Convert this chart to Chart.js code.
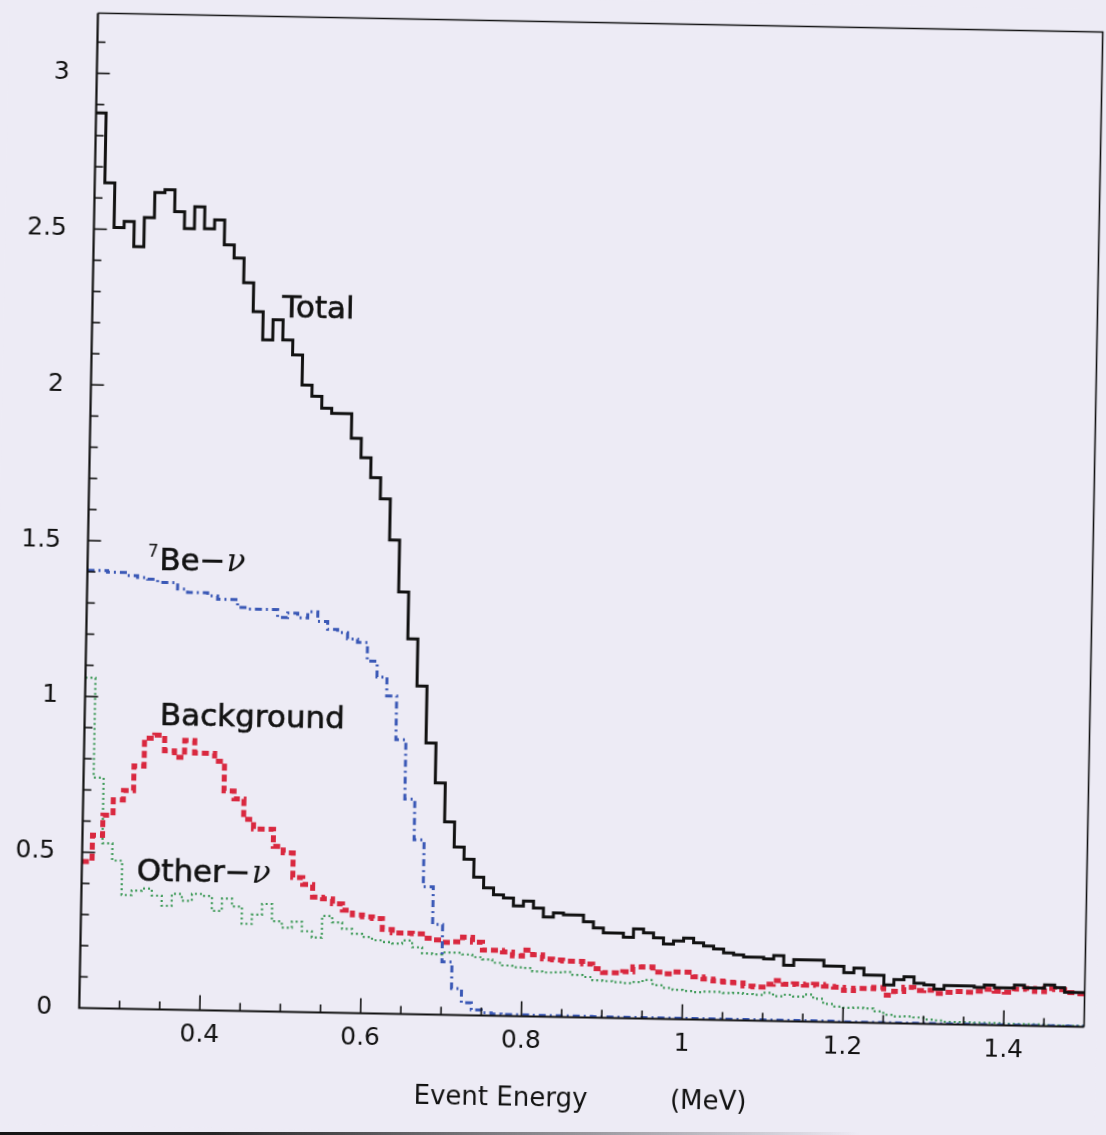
<!DOCTYPE html>
<html>
<head>
<meta charset="utf-8">
<title>Event Energy spectrum</title>
<script src="https://cdn.jsdelivr.net/npm/chart.js@4.4.1/dist/chart.umd.min.js"></script>
<style>
  html, body { margin: 0; padding: 0; background: #edebf5; overflow: hidden; }
  #wrap { position: relative; width: 1106px; height: 1135px; background: #edebf5; }
  #plot { position: absolute; left: 0; top: 0; transform-origin: 591px 520px; transform: rotate(1.08deg); }
  #edge { position: absolute; left: 0; bottom: 0; width: 860px; height: 3px;
          background: linear-gradient(to right, #151515 0%, #262626 25%, rgba(60,60,60,0) 100%); }
</style>
</head>
<body>
<div id="wrap">
  <canvas id="plot" width="1106" height="1135"></canvas>
  <div id="edge"></div>
</div>
<script>
// Histogram binning: 100 bins of 0.0125 MeV from 0.25 to 1.5 MeV
const binStart = 0.25;
const binWidth = 0.0125;

// Bin contents, one value per bin
const total = [
  2.873, 2.649, 2.506, 2.526, 2.446, 2.540, 2.621, 2.631, 2.561, 2.507,
  2.578, 2.508, 2.537, 2.457, 2.416, 2.337, 2.245, 2.155, 2.220, 2.156,
  2.108, 2.012, 1.977, 1.939, 1.923, 1.923, 1.844, 1.783, 1.719, 1.652,
  1.520, 1.354, 1.204, 1.053, 0.871, 0.744, 0.619, 0.539, 0.501, 0.444,
  0.410, 0.388, 0.379, 0.354, 0.370, 0.348, 0.320, 0.334, 0.328, 0.328,
  0.307, 0.288, 0.273, 0.273, 0.260, 0.287, 0.275, 0.260, 0.241, 0.251,
  0.261, 0.246, 0.237, 0.228, 0.216, 0.210, 0.204, 0.204, 0.199, 0.210,
  0.180, 0.198, 0.198, 0.198, 0.180, 0.180, 0.160, 0.175, 0.153, 0.153,
  0.123, 0.140, 0.150, 0.130, 0.125, 0.112, 0.124, 0.124, 0.124, 0.120,
  0.128, 0.120, 0.120, 0.130, 0.122, 0.122, 0.132, 0.124, 0.110, 0.110
];

const be7 = [
  1.405, 1.405, 1.400, 1.400, 1.390, 1.385, 1.380, 1.370, 1.370, 1.350,
  1.340, 1.340, 1.330, 1.320, 1.320, 1.295, 1.290, 1.290, 1.290, 1.265,
  1.280, 1.265, 1.285, 1.255, 1.230, 1.220, 1.200, 1.190, 1.130, 1.080,
  1.020, 0.880, 0.690, 0.560, 0.410, 0.290, 0.170, 0.085, 0.040, 0.018,
  0.009, 0.006, 0.005, 0.005, 0.005, 0.004, 0.004, 0.004, 0.004, 0.004,
  0.004, 0.003, 0.003, 0.003, 0.003, 0.003, 0.003, 0.003, 0.003, 0.003,
  0.003, 0.003, 0.003, 0.003, 0.003, 0.003, 0.003, 0.003, 0.003, 0.003,
  0.003, 0.003, 0.003, 0.003, 0.003, 0.002, 0.002, 0.002, 0.002, 0.002,
  0.002, 0.002, 0.002, 0.002, 0.002, 0.002, 0.002, 0.002, 0.002, 0.002,
  0.002, 0.002, 0.002, 0.002, 0.002, 0.002, 0.002, 0.002, 0.002, 0.002
];

const background = [
  0.470, 0.555, 0.620, 0.670, 0.700, 0.780, 0.870, 0.880, 0.830, 0.810,
  0.865, 0.825, 0.825, 0.800, 0.705, 0.680, 0.615, 0.585, 0.585, 0.530,
  0.510, 0.432, 0.410, 0.370, 0.365, 0.350, 0.330, 0.315, 0.310, 0.305,
  0.270, 0.260, 0.260, 0.258, 0.245, 0.240, 0.233, 0.235, 0.250, 0.235,
  0.210, 0.210, 0.205, 0.193, 0.213, 0.198, 0.185, 0.183, 0.180, 0.180,
  0.172, 0.157, 0.145, 0.145, 0.149, 0.165, 0.166, 0.150, 0.145, 0.152,
  0.152, 0.137, 0.131, 0.125, 0.122, 0.120, 0.111, 0.108, 0.118, 0.130,
  0.119, 0.120, 0.117, 0.120, 0.115, 0.112, 0.103, 0.110, 0.110, 0.114,
  0.090, 0.103, 0.116, 0.107, 0.108, 0.099, 0.103, 0.106, 0.104, 0.108,
  0.115, 0.109, 0.107, 0.117, 0.120, 0.111, 0.121, 0.118, 0.109, 0.106
];

const otherNu = [
  1.060, 0.740, 0.530, 0.475, 0.365, 0.380, 0.387, 0.365, 0.333, 0.372,
  0.350, 0.373, 0.367, 0.320, 0.360, 0.335, 0.280, 0.310, 0.345, 0.290,
  0.270, 0.290, 0.260, 0.240, 0.310, 0.290, 0.270, 0.255, 0.245, 0.235,
  0.230, 0.226, 0.236, 0.215, 0.196, 0.194, 0.200, 0.200, 0.195, 0.187,
  0.180, 0.170, 0.162, 0.157, 0.155, 0.145, 0.142, 0.143, 0.145, 0.136,
  0.130, 0.120, 0.118, 0.115, 0.113, 0.117, 0.124, 0.108, 0.100, 0.094,
  0.091, 0.088, 0.090, 0.090, 0.087, 0.088, 0.085, 0.083, 0.090, 0.080,
  0.085, 0.080, 0.087, 0.074, 0.058, 0.050, 0.047, 0.048, 0.046, 0.037,
  0.027, 0.022, 0.023, 0.020, 0.014, 0.012, 0.008, 0.008, 0.008, 0.007,
  0.007, 0.007, 0.005, 0.005, 0.005, 0.005, 0.003, 0.003, 0.003, 0.003
];

// Axis ticks
const xTickValues = [0.4, 0.6, 0.8, 1.0, 1.2, 1.4];
const xTickLabels = ['0.4', '0.6', '0.8', '1', '1.2', '1.4'];
const yTickValues = [0, 0.5, 1, 1.5, 2, 2.5, 3];
const yTickLabels = ['0', '0.5', '1', '1.5', '2', '2.5', '3'];

// Curve captions, anchored in data units (left edge, text baseline)
const captions = [
  { parts: [{ t: 'Total' }], x: 0.486, y: 2.228 },
  { parts: [{ t: '7', sup: true }, { t: 'Be\u2212' }, { t: '\u03bd', greek: true }], x: 0.3245, y: 1.4095 },
  { parts: [{ t: 'Background' }], x: 0.3435, y: 0.912 },
  { parts: [{ t: 'Other\u2212' }, { t: '\u03bd', greek: true }], x: 0.3185, y: 0.4136 }
];

// Turn bin contents into left-edge step points, closing at the upper edge
function histPoints(values) {
  const pts = values.map((v, i) => ({ x: binStart + i * binWidth, y: v }));
  pts.push({ x: binStart + values.length * binWidth, y: values[values.length - 1] });
  return pts;
}

const INK = '#121212';
const FONT = "'DejaVu Sans', sans-serif";

const paperPlugin = {
  id: 'paper',
  beforeDraw(chart) {
    const ctx = chart.ctx;
    ctx.save();
    ctx.fillStyle = '#edebf5';
    ctx.fillRect(0, 0, chart.width, chart.height);
    ctx.restore();
  }
};

// Frame with inward ticks, plus the curve captions
const framePlugin = {
  id: 'frame',
  afterDatasetsDraw(chart) {
    const { ctx, chartArea: a, scales: { x, y } } = chart;
    ctx.save();
    ctx.strokeStyle = INK;
    ctx.lineCap = 'butt';

    // minor ticks every 0.05 MeV, major every 0.2 MeV
    ctx.lineWidth = 1.6;
    for (let k = 6; k < 30; k++) {
      const px = x.getPixelForValue(k * 0.05);
      const len = (k % 4 === 0) ? 15 : 8;
      ctx.beginPath();
      ctx.moveTo(px, a.bottom);
      ctx.lineTo(px, a.bottom - len);
      ctx.stroke();
    }
    // minor ticks every 0.1, major every 0.5
    for (let k = 1; k <= 31; k++) {
      const py = y.getPixelForValue(k * 0.1);
      const len = (k % 5 === 0) ? 13 : 8;
      ctx.beginPath();
      ctx.moveTo(a.left, py);
      ctx.lineTo(a.left + len, py);
      ctx.stroke();
    }

    // frame
    ctx.lineWidth = 1.6;
    ctx.beginPath();
    ctx.moveTo(a.left, a.top);
    ctx.lineTo(a.right, a.top);
    ctx.lineTo(a.right, a.bottom);
    ctx.stroke();
    ctx.lineWidth = 2.2;
    ctx.beginPath();
    ctx.moveTo(a.left, a.top);
    ctx.lineTo(a.left, a.bottom);
    ctx.lineTo(a.right, a.bottom);
    ctx.stroke();

    // captions
    ctx.fillStyle = INK;
    ctx.strokeStyle = INK;
    ctx.lineWidth = 0.6;
    ctx.textBaseline = 'alphabetic';
    ctx.textAlign = 'left';
    captions.forEach(c => {
      let px = x.getPixelForValue(c.x);
      const py = y.getPixelForValue(c.y);
      c.parts.forEach(p => {
        if (p.sup) {
          ctx.font = '17px ' + FONT;
          ctx.fillText(p.t, px, py - 13);
          px += ctx.measureText(p.t).width + 1;
        } else if (p.greek) {
          ctx.font = "italic 31px 'DejaVu Serif', serif";
          ctx.fillText(p.t, px + 1, py);
          px += ctx.measureText(p.t).width + 1;
        } else {
          ctx.font = '31px ' + FONT;
          ctx.fillText(p.t, px, py);
          ctx.strokeText(p.t, px, py);
          px += ctx.measureText(p.t).width;
        }
      });
    });
    ctx.restore();
  }
};

new Chart(document.getElementById('plot'), {
  type: 'line',
  data: {
    datasets: [
      {
        label: 'Total',
        data: histPoints(total),
        stepped: true,
        borderColor: '#111111',
        borderWidth: 3,
        pointRadius: 0
      },
      {
        label: '7Be-nu',
        data: histPoints(be7),
        stepped: true,
        borderColor: '#3a58b6',
        borderWidth: 3,
        borderDash: [7, 4, 2, 4],
        pointRadius: 0
      },
      {
        label: 'Background',
        data: histPoints(background),
        stepped: true,
        borderColor: '#d9283f',
        borderWidth: 5,
        borderDash: [7, 4],
        pointRadius: 0
      },
      {
        label: 'Other-nu',
        data: histPoints(otherNu),
        stepped: true,
        borderColor: '#3e9a58',
        borderWidth: 2.2,
        borderDash: [2, 3],
        pointRadius: 0
      }
    ]
  },
  options: {
    responsive: false,
    animation: false,
    devicePixelRatio: 1,
    layout: { padding: { left: 0, right: 12.5, top: 22.5, bottom: 0 } },
    plugins: {
      legend: { display: false },
      tooltip: { enabled: false }
    },
    scales: {
      x: {
        type: 'linear',
        min: binStart,
        max: 1.5,
        afterBuildTicks: s => { s.ticks = xTickValues.map(v => ({ value: v })); },
        afterFit: s => { s.height = 117.5; s.paddingLeft = 0; s.paddingRight = 0; },
        ticks: {
          autoSkip: false,
          maxRotation: 0,
          padding: 10,
          color: INK,
          font: { family: FONT, size: 25 },
          callback: (v, i) => xTickLabels[i]
        },
        grid: { display: false, drawTicks: false },
        border: { display: false },
        title: {
          display: true,
          text: 'Event Energy          (MeV)',
          color: INK,
          font: { family: FONT, size: 26 },
          padding: { top: 0, bottom: 19.5 }
        }
      },
      y: {
        type: 'linear',
        min: 0,
        max: 3.193,
        afterBuildTicks: s => { s.ticks = yTickValues.map(v => ({ value: v })); },
        afterFit: s => { s.width = 88.5; s.paddingTop = 0; s.paddingBottom = 0; },
        ticks: {
          autoSkip: false,
          padding: 27,
          color: INK,
          font: { family: FONT, size: 25 },
          callback: (v, i) => yTickLabels[i]
        },
        grid: { display: false, drawTicks: false },
        border: { display: false }
      }
    }
  },
  plugins: [paperPlugin, framePlugin]
});
</script>
</body>
</html>
